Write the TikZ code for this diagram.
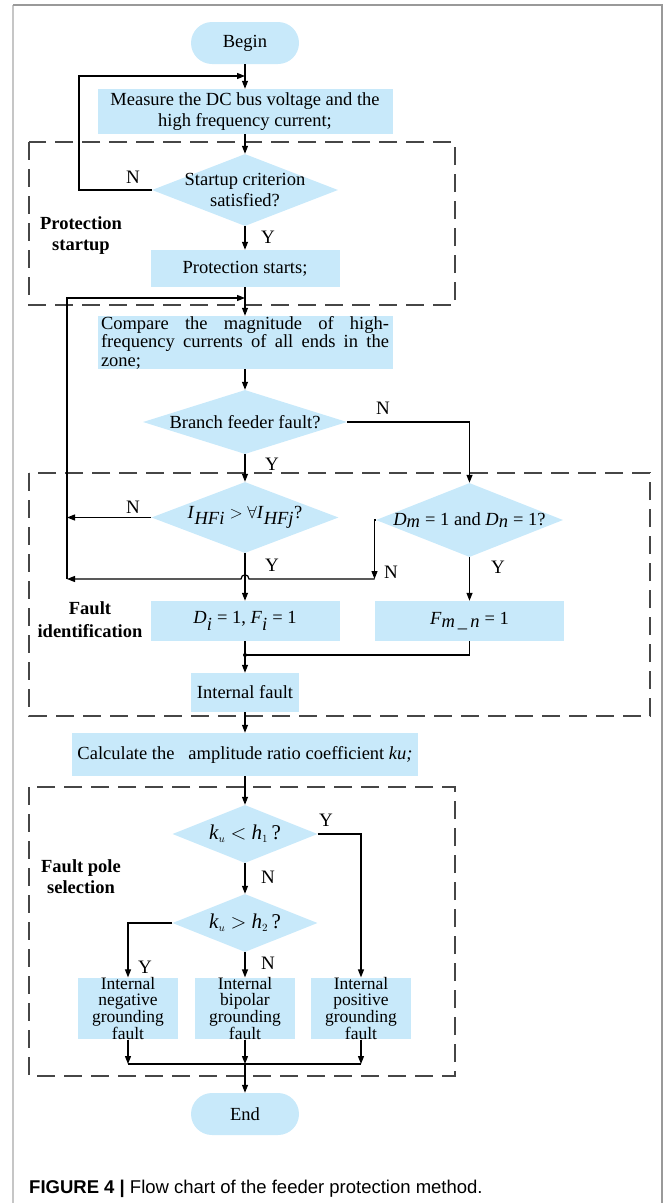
\documentclass[tikz,border=0pt]{standalone}
\usepackage{fontspec}
\setmainfont{Liberation Serif}
\newfontfamily\capfont{Liberation Sans}
\usetikzlibrary{shapes.geometric,arrows.meta}
\definecolor{boxblue}{RGB}{200,233,250}
\definecolor{zonegray}{RGB}{70,70,70}

\begin{document}
\begin{tikzpicture}[x=1pt, y=-1pt]

  \tikzset{
  ProcStyle/.style = {
  shape = rectangle,
  fill = boxblue,
  inner sep = 0pt,
  align = center,
  font = \fontsize{18.5pt}{21pt}\selectfont},
  TermStyle/.style = {
  ProcStyle,
  rounded corners = 21pt,
  minimum width = 108pt,
  minimum height = 42pt},
  DecStyle/.style = {
  shape = diamond,
  fill = boxblue,
  aspect = 3,
  inner xsep = -16pt,
  inner ysep = -11pt,
  align = center,
  font = \fontsize{18.5pt}{21pt}\selectfont},
  ZoneStyle/.style = {
  draw = zonegray,
  line width = 1.3pt,
  dash pattern = on 18pt off 9pt},
  ZoneLabel/.style = {
  inner sep = 0pt,
  align = center,
  font = \bfseries\fontsize{18.5pt}{21pt}\selectfont},
  YNStyle/.style = {
  inner sep = 0pt,
  font = \fontsize{19pt}{20pt}\selectfont},
  LineStyle/.style = {
  draw = black,
  line width = 1.2pt},
  FlowStyle/.style = {
  LineStyle,
  -{Triangle[length=8pt, width=6pt]}}}

  \useasboundingbox (0,0) rectangle (665,1203);
  \draw[gray!45, line width=1.5pt] (13,1203) -- (13,5);
  \draw[gray!80, line width=1.5pt] (13,5) -- (662,5) -- (662,1203);

  \draw[ZoneStyle] (29,142) rectangle (455,305);
  \draw[ZoneStyle] (29,473) rectangle (650,716);
  \draw[ZoneStyle] (29,787) rectangle (455,1076);

  \node[TermStyle] (Begin) at (245,43) {Begin};
  \node[ProcStyle, minimum width=295pt, minimum height=45pt] (Meas) at (245,111.5)
    {Measure the DC bus voltage and the\\high frequency current;};

  \begin{scope}
    \node[DecStyle, minimum width=186pt, minimum height=72pt] (Start) at (245,190)
      {Startup criterion\\satisfied?};
    \node[ProcStyle, minimum width=189pt, minimum height=37pt] (Prot) at (245,268.5)
      {Protection starts;};
    \node[ZoneLabel] (L1) at (81,236) {Protection\\startup};
    \node[YNStyle] (N1) at (133,177) {N};
    \node[YNStyle] (Y1) at (268,237) {Y};
  \end{scope};

  \node[ProcStyle, minimum width=295pt, minimum height=53pt, text width=288pt,
    align=justify, font=\fontsize{18.5pt}{18.5pt}\selectfont] (Comp) at (245,342.5)
    {Compare the magnitude of high-\linebreak frequency currents of all ends in the\linebreak zone;};
  \node[DecStyle, minimum width=204pt, minimum height=64pt] (Branch) at (245,422)
    {Branch feeder fault?};
  \node[YNStyle] (N2) at (383,408) {N};
  \node[YNStyle] (Y2) at (272,464) {Y};

  \begin{scope}
    \node[DecStyle, minimum width=187pt, minimum height=71pt] (Ihf) at (245,517.5)
      {\textit{I}$_{\textit{HFi}}$ $>$ $\forall$\textit{I}$_{\textit{HFj}}$?};
    \node[DecStyle, minimum width=187pt, minimum height=74pt] (Dmn) at (469.5,520)
      {\textit{D}$_{\textit{m}}$ = 1 and \textit{D}$_{\textit{n}}$ = 1?};
    \node[ProcStyle, minimum width=189pt, minimum height=40pt] (Di) at (245,621)
      {\textit{D}$_{\textit{i}}$ = 1, \textit{F}$_{\textit{i}}$ = 1};
    \node[ProcStyle, minimum width=189pt, minimum height=40pt] (Fmn) at (469.5,621)
      {\textit{F}$_{\textit{m\,\_\,n}}$ = 1};
    \node[ProcStyle, minimum width=108pt, minimum height=39pt] (Intf) at (245,692.5)
      {Internal fault};
    \node[ZoneLabel, font=\bfseries\fontsize{18.5pt}{23pt}\selectfont] (L2) at (90,620)
      {Fault\\identification};
    \node[YNStyle] (N3) at (133,507) {N};
    \node[YNStyle] (N4) at (391,572) {N};
    \node[YNStyle] (Y3) at (272,565) {Y};
    \node[YNStyle] (Y4) at (498,567) {Y};
  \end{scope};

  \node[ProcStyle, minimum width=346pt, minimum height=43pt] (Calc) at (245,754.5)
    {Calculate the\ \ \ amplitude ratio coefficient \textit{ku;}};

  \begin{scope}
    \node[DecStyle, minimum width=145pt, minimum height=58pt,
      font=\fontsize{21pt}{22pt}\selectfont] (Ku1) at (245,834)
      {\textit{k}$_{\scriptscriptstyle u}$ $<$ \textit{h}$_{\scriptscriptstyle 1}$\,?};
    \node[DecStyle, minimum width=145pt, minimum height=58pt,
      font=\fontsize{21pt}{22pt}\selectfont] (Ku2) at (245,923)
      {\textit{k}$_{\scriptscriptstyle u}$ $>$ \textit{h}$_{\scriptscriptstyle 2}$\,?};
    \node[ProcStyle, minimum width=100pt, minimum height=61pt,
      font=\fontsize{17.5pt}{15.5pt}\selectfont] (Neg) at (128,1008.5)
      {Internal\\negative\\grounding\\fault};
    \node[ProcStyle, minimum width=100pt, minimum height=61pt,
      font=\fontsize{17.5pt}{15.5pt}\selectfont] (Bip) at (245,1008.5)
      {Internal\\bipolar\\grounding\\fault};
    \node[ProcStyle, minimum width=100pt, minimum height=61pt,
      font=\fontsize{17.5pt}{15.5pt}\selectfont] (Pos) at (361,1008.5)
      {Internal\\positive\\grounding\\fault};
    \node[ZoneLabel] (L3) at (81,877) {Fault pole\\selection};
    \node[YNStyle] (Y5) at (326,820) {Y};
    \node[YNStyle] (N5) at (268,877) {N};
    \node[YNStyle] (Y6) at (145,967) {Y};
    \node[YNStyle] (N6) at (268,963) {N};
  \end{scope};

  \node[TermStyle] (End) at (245,1114) {End};

  \node[anchor=base west, inner sep=0pt,
    font=\capfont\fontsize{18.5pt}{20pt}\selectfont] (Cap) at (29,1193)
    {\textbf{FIGURE 4 |} Flow chart of the feeder protection method.};

  \coordinate (Lp1) at (79,76);
  \coordinate (J1) at (245,76);
  \coordinate (J2) at (245,298);
  \coordinate (Jh) at (67,579);
  \coordinate (Jn) at (67,517.5);
  \coordinate (Dn) at (374.5,579);
  \coordinate (Jd) at (245,655);
  \coordinate (Bl) at (128,1064);
  \coordinate (Bm) at (245,1064);
  \coordinate (Br) at (361,1064);

  \draw[FlowStyle] (Begin) -- (Meas);
  \draw[FlowStyle] (Start.west) -| (Lp1) -- (J1);
  \draw[FlowStyle] (Meas) -- (Start);
  \draw[FlowStyle] (Start) -- (Prot);
  \draw[FlowStyle] (Prot) -- (Comp);
  \draw[FlowStyle] (Jh) |- (J2);
  \draw[FlowStyle] (Comp) -- (Branch);
  \draw[FlowStyle] (Branch.east) -| (Dmn.north);
  \draw[FlowStyle] (Branch) -- (Ihf);
  \draw[FlowStyle] (Ihf.west) -- (Jn);
  \draw[FlowStyle] (Dmn.west) -| (Dn);
  \draw[FlowStyle] (Dn) -- (249,579) .. controls (249,573.5) and (241,573.5) .. (241,579) -- (Jh);
  \draw[FlowStyle] (Ihf) -- (Di);
  \draw[FlowStyle] (Dmn) -- (Fmn);
  \draw[LineStyle] (Di) -- (Jd);
  \draw[LineStyle] (Fmn) |- (Jd);
  \fill (Jd) circle (2);
  \draw[FlowStyle] (Jd) -- (Intf);
  \draw[FlowStyle] (Intf) -- (Calc);
  \draw[FlowStyle] (Calc) -- (Ku1);
  \draw[FlowStyle] (Ku1) -- (Ku2);
  \draw[FlowStyle] (Ku1.east) -| (Pos);
  \draw[FlowStyle] (Ku2.west) -| (Neg);
  \draw[FlowStyle] (Ku2) -- (Bip);
  \draw[FlowStyle] (Neg) -- (Bl);
  \draw[FlowStyle] (Pos) -- (Br);
  \draw[LineStyle] (Bl) -- (Br);
  \draw[FlowStyle] (Bip) -- (Bm);
  \draw[FlowStyle] (Bm) -- (End);
\end{tikzpicture}
\end{document}
